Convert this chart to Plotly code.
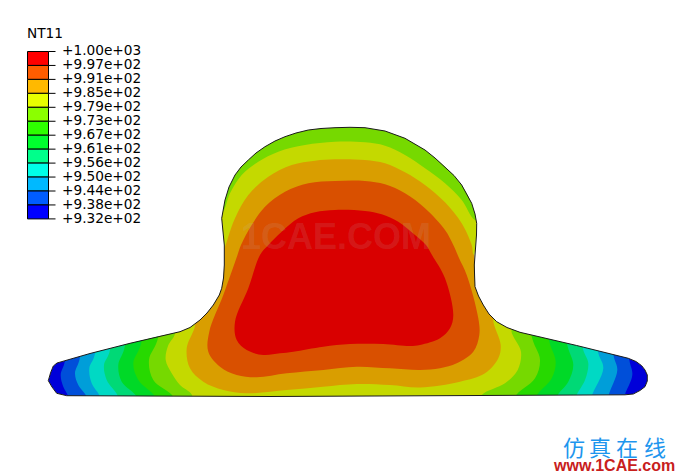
import plotly.graph_objects as go

WIDTH, HEIGHT = 675, 473

LEGEND_LABELS = ["+1.00e+03", "+9.97e+02", "+9.91e+02", "+9.85e+02", "+9.79e+02", "+9.73e+02", "+9.67e+02",
                 "+9.61e+02", "+9.56e+02", "+9.50e+02", "+9.44e+02", "+9.38e+02", "+9.32e+02"]
LEGEND_COLORS = ["#ff0000", "#ff5d00", "#ffb900", "#e8ff00", "#8bff00", "#2eff00", "#00ff2e",
                 "#00ff8b", "#00ffe8", "#00b9ff", "#005dff", "#0000ff"]
BAND_COLORS = ["#0000d9", "#004fd9", "#009ed9", "#00d9c4", "#00d976", "#00d927",
               "#27d900", "#76d900", "#c4d900", "#d99e00", "#d95000", "#d90000"]

OUTLINE_X = [48.3, 50.5, 53.3, 57, 65, 90, 130, 160, 180, 190, 200, 207, 213.3, 219.3, 221.7, 223.5, 224.3, 224.3, 223, 221.7,
             225, 229, 235, 241, 248.3, 256, 265, 275, 285, 296, 308.3, 321, 335, 350, 365, 385, 405, 425, 435, 445, 454,
             461.7, 467, 471.7, 475, 476.7, 476.5, 475.7, 474.5, 474.3, 474.6, 475, 478.5, 483.3, 489, 496.7, 507, 520,
             576.7, 628.3, 636, 641.7, 645, 647.3, 647.3, 645, 640, 633.3, 625, 505, 410, 270, 66.7, 56.7, 52]
OUTLINE_Y = [380.7, 373, 366, 363, 360.7, 353.5, 343.3, 336, 331.7, 327.5, 320, 313, 305, 295, 288.3, 278, 265, 245, 232, 218.3,
             200, 187, 175, 167, 160, 153, 146.7, 141, 136.7, 133, 130, 128.5, 127.7, 127.3, 127.7, 131, 138.3, 150, 158, 166.7, 175.5,
             185, 194, 203.3, 214, 223.3, 235, 245, 255, 265, 276, 286.7, 296, 305, 314, 321.7, 327.5, 332.3,
             345.5, 358.3, 361.5, 365.7, 370, 375, 381, 386.7, 390.5, 394, 394.8, 395.3, 395.7, 396.5, 395.7, 393.3, 387]

# Iso-temperature boundaries: left and right flanks of each band limit on the base of the part
LEFT_X = [[68.3, 63.3, 60.7, 65], [86.7, 78.3, 75, 80], [100, 91.7, 89.3, 95], [118.3, 106.7, 104, 110],
          [136.7, 121.7, 118.3, 125], [155, 138.3, 133.3, 141.7], [173.3, 153.3, 149, 158.3]]
LEFT_Y = [[397, 386.7, 375, 360], [397, 385, 373.3, 357], [397, 383.3, 368.3, 353.5], [397, 380, 365, 350],
          [397, 381.7, 365, 345.5], [397, 380, 363.3, 341], [397, 380, 360, 336.5]]
RIGHT_X = [[629, 632.3, 624.3], [613.3, 617.3, 608.3], [597.7, 603.3, 591.7], [582.3, 588.3, 585, 576],
           [566.7, 573.3, 568.3, 556.7], [548.3, 555.7, 551.7, 536], [531, 540, 535, 515]]
RIGHT_Y = [[357, 375, 397], [353.5, 370, 397], [350, 368.3, 397], [346, 363.3, 380, 397],
           [341.5, 365, 381.7, 397], [336.5, 361.7, 378.3, 397], [333, 360, 378.3, 397]]

YELLOW_X = [195, 191.7, 180, 171.7, 165.7, 168, 175, 170, 200, 215, 222.3, 230, 241.7, 258.3, 278.3, 305, 335, 365, 385, 405,
            425, 445, 461.7, 475, 490, 525, 511.7, 521, 517.7, 505, 481.7, 475, 195]
YELLOW_Y = [410, 394.5, 385, 373.3, 360, 346, 333.3, 320, 230, 212.3, 212.3, 193.3, 175, 161.7, 151.7, 145, 141.7, 142.3, 145.7, 155,
            168.3, 183.3, 200, 220, 222, 325, 330, 351.7, 370, 383.3, 395, 410, 410]
ORANGE_X = [224, 210, 192, 195, 186.7, 190, 203.3, 223.3, 246.7, 286.7, 323, 356.7, 390, 420, 460, 485, 498.3, 500.7, 493.3, 497, 480,
            474, 471.7, 461.7, 445, 425, 405, 385, 365, 335, 315, 291.7, 268.3, 248.3, 235, 226.7]
ORANGE_Y = [250, 250, 315, 325, 348.3, 368.3, 381.7, 390, 393.3, 390, 386.7, 384, 385, 387.5, 381.7, 373.3, 358.3, 345, 320, 310, 255,
            255, 245, 223.3, 202.3, 185, 172.3, 163.3, 160, 159.3, 160.7, 165, 176.7, 195, 218.3, 241.7]
DARK_ORANGE_X = [237.5, 223.3, 209.3, 208.3, 220, 236.7, 256.7, 286.7, 323.3, 356.7, 390, 420, 440, 456.7, 473.3, 479.3, 478.3, 466.7, 459,
                 453.3, 445, 425, 405, 385, 365, 335, 308.3, 285, 265, 251.7, 241]
DARK_ORANGE_Y = [255, 295, 331.7, 351.7, 366.7, 375, 377.3, 373.3, 370, 366.7, 368.3, 370, 368.3, 363.3, 351.7, 335, 318.3, 275, 258,
                 245, 230, 208.3, 193.3, 184.3, 181, 181, 183.3, 191.7, 206.7, 225, 245]
RED_X = [260, 248.3, 235, 236.7, 246.7, 263.3, 280, 293.3, 323.3, 350, 383.3, 410, 420, 440, 450, 453.3, 445, 432, 426, 415,
         398.3, 381.7, 365, 335, 315, 298.3, 281.7, 268.3]
RED_Y = [255, 288.3, 321.7, 340, 350, 355, 353.3, 351.7, 346.7, 344, 344, 346, 345, 338.3, 328.3, 315, 278.3, 255, 245, 235,
         221.7, 214.3, 211, 210, 212.3, 218.3, 231.7, 245]

fig = go.Figure()


def polygon(x, y, color, line=None, width=0, smooth=False):
    fig.add_trace(go.Scatter(x=x, y=y, mode="lines", fill="toself", fillcolor=color,
                             line=dict(color=line or color, width=width,
                                       shape="spline" if smooth else "linear", smoothing=1.0),
                             hoverinfo="skip", showlegend=False))


# body, then nested bands painted inwards
polygon(OUTLINE_X + OUTLINE_X[:1], OUTLINE_Y + OUTLINE_Y[:1], BAND_COLORS[0])
for i in range(7):
    xs = [LEFT_X[i][0]] + LEFT_X[i] + [LEFT_X[i][-1], RIGHT_X[i][0]] + RIGHT_X[i] + [RIGHT_X[i][-1]]
    ys = [410] + LEFT_Y[i] + [100, 100] + RIGHT_Y[i] + [410]
    polygon(xs, ys, BAND_COLORS[i + 1], smooth=True)
polygon(YELLOW_X, YELLOW_Y, BAND_COLORS[8], smooth=True)
polygon(ORANGE_X, ORANGE_Y, BAND_COLORS[9], smooth=True)
polygon(DARK_ORANGE_X + DARK_ORANGE_X[:1], DARK_ORANGE_Y + DARK_ORANGE_Y[:1], BAND_COLORS[10], smooth=True)
polygon(RED_X + RED_X[:1], RED_Y + RED_Y[:1], BAND_COLORS[11], smooth=True)

# white surround trims the bands to the part outline (outline walked the opposite way to leave a hole)
rev_x = OUTLINE_X[::-1]
rev_y = OUTLINE_Y[::-1]
mask_x = [-5, WIDTH + 5, WIDTH + 5, -5, -5] + rev_x + rev_x[:1] + [-5]
mask_y = [-5, -5, HEIGHT + 5, HEIGHT + 5, -5] + rev_y + rev_y[:1] + [-5]
polygon(mask_x, mask_y, "#ffffff")
fig.add_trace(go.Scatter(x=OUTLINE_X + OUTLINE_X[:1], y=OUTLINE_Y + OUTLINE_Y[:1], mode="lines",
                         line=dict(color="#1a1a1a", width=1), hoverinfo="skip", showlegend=False))

# legend
LEG_X0, LEG_X1, LEG_TICK, LEG_TOP, LEG_STEP = 27.5, 48.5, 55.5, 51.5, 13.95
for i, c in enumerate(LEGEND_COLORS):
    y0 = LEG_TOP + i * LEG_STEP
    polygon([LEG_X0, LEG_X1, LEG_X1, LEG_X0, LEG_X0], [y0, y0, y0 + LEG_STEP, y0 + LEG_STEP, y0], c, "#000000", 1)
tx, ty = [], []
for i in range(len(LEGEND_LABELS)):
    y0 = LEG_TOP + i * LEG_STEP
    tx += [LEG_X1, LEG_TICK, None]
    ty += [y0, y0, None]
fig.add_trace(go.Scatter(x=tx, y=ty, mode="lines", line=dict(color="#000000", width=1), hoverinfo="skip", showlegend=False))

ann = [dict(x=25, y=33, text="NT11", xanchor="left", yanchor="middle", showarrow=False,
            font=dict(family="DejaVu Sans", size=13.7, color="#000000"))]
for i, t in enumerate(LEGEND_LABELS):
    ann.append(dict(x=60, y=LEG_TOP + i * LEG_STEP - 1.3, text=t, xanchor="left", yanchor="middle", showarrow=False,
                    font=dict(family="DejaVu Sans", size=13.7, color="#000000")))
ann.append(dict(x=336, y=236.5, text="<b>1CAE.COM</b>", xanchor="center", yanchor="middle", showarrow=False,
                font=dict(family="Liberation Sans", size=36, color="rgba(190,190,190,0.14)")))
for x, ch in zip([574, 600, 627, 655], "仿真在线"):
    ann.append(dict(x=x, y=446, text=ch, xanchor="center", yanchor="middle", showarrow=False,
                    font=dict(family="Noto Sans CJK SC", size=22, color="#1e96ee")))
ann.append(dict(x=613.5, y=465, text="<b>www.1CAE.com</b>", xanchor="center", yanchor="middle", showarrow=False,
                font=dict(family="Liberation Sans", size=16, color="#c8201c")))

fig.update_layout(width=WIDTH, height=HEIGHT, margin=dict(l=0, r=0, t=0, b=0), paper_bgcolor="#ffffff", plot_bgcolor="#ffffff",
                  xaxis=dict(range=[0, WIDTH], visible=False, fixedrange=True),
                  yaxis=dict(range=[HEIGHT, 0], visible=False, fixedrange=True),
                  annotations=ann, showlegend=False)
fig.write_html("out.html", config={"displayModeBar": False},
               post_script="document.body.style.margin='0';document.documentElement.style.overflow='hidden';")
